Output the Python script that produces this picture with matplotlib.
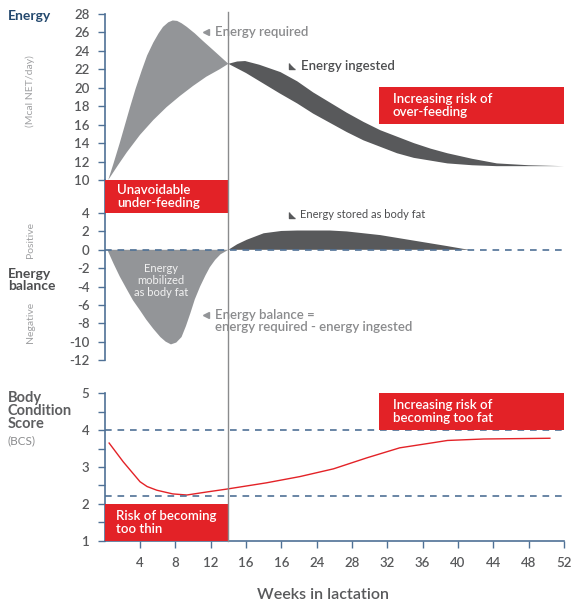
import matplotlib
matplotlib.use("Agg")
import matplotlib.pyplot as plt
import numpy as np
from matplotlib.lines import Line2D
from matplotlib.patches import Rectangle
from matplotlib.transforms import blended_transform_factory

plt.rcParams["font.family"] = ["Lato", "DejaVu Sans"]
plt.rcParams["axes.unicode_minus"] = False

# --- energy (Mcal NET/day), weeks 0-14: required (top) vs ingested (bottom)
req_early_x = [0.4, 1.0, 1.7, 2.3, 2.9, 3.5, 4.2, 4.8, 5.5, 6.1, 6.6, 7.2, 7.7, 8.2,
               8.7, 9.3, 10.2, 11.1, 12.5, 14.0]
req_early_y = [10.0, 11.8, 14.0, 16.0, 18.0, 19.9, 21.9, 23.5, 24.9, 25.9, 26.6, 27.1,
               27.3, 27.25, 27.0, 26.6, 25.9, 25.1, 23.9, 22.6]
ing_early_x = [0.4, 1.5, 2.5, 4.0, 5.5, 7.0, 8.5, 10.0, 11.5, 13.0, 14.0]
ing_early_y = [10.0, 11.6, 13.0, 14.9, 16.5, 17.9, 19.1, 20.2, 21.2, 22.0, 22.6]

# --- weeks 14-52: ingested (top) vs required (bottom)
ing_late_x = [14.0, 15.0, 15.9, 17.5, 19.9, 21.8, 23.6, 25.5, 27.4, 29.3, 31.2, 33.1,
              35.0, 36.9, 38.8, 41.6, 44.4, 48.0, 52.0]
ing_late_y = [22.6, 22.85, 22.9, 22.5, 21.7, 20.7, 19.5, 18.4, 17.3, 16.3, 15.4, 14.7,
              14.0, 13.4, 12.9, 12.3, 11.8, 11.6, 11.5]
req_late_x = [14.0, 16.0, 17.9, 19.8, 21.8, 23.6, 25.5, 27.4, 29.3, 31.2, 33.1, 35.0,
              36.9, 38.8, 41.6, 44.4, 48.0, 52.0]
req_late_y = [22.6, 21.6, 20.5, 19.4, 18.3, 17.2, 16.2, 15.2, 14.3, 13.6, 12.9, 12.4,
              12.1, 11.8, 11.6, 11.5, 11.5, 11.5]

# --- energy balance
neg_x = [0.3, 1.0, 1.7, 2.5, 3.2, 4.0, 4.7, 5.5, 6.3, 6.9, 7.5, 8.1, 8.7, 9.2, 9.7,
         10.2, 10.8, 11.4, 11.9, 12.5, 13.1, 14.0]
neg_y = [0.0, -1.5, -2.9, -4.3, -5.5, -6.6, -7.6, -8.6, -9.5, -10.0, -10.3, -10.1, -9.5,
         -8.3, -6.9, -5.4, -4.0, -2.8, -1.9, -1.1, -0.5, 0.0]
pos_x = [14.0, 15.0, 16.1, 18.0, 20.0, 21.8, 23.6, 25.5, 27.4, 29.3, 31.2, 33.1, 35.0,
         36.9, 38.8, 40.6, 41.4]
pos_y = [0.0, 0.6, 1.1, 1.8, 2.05, 2.1, 2.1, 2.1, 2.0, 1.8, 1.6, 1.3, 1.0, 0.7, 0.4, 0.1, 0.0]

# --- body condition score
bcs_x = [0.5, 2.1, 4.0, 4.8, 5.9, 7.7, 9.3, 11.5, 13.8, 18.3, 22.1, 25.9, 29.7, 33.4,
         37.2, 38.8, 42.9, 50.4]
bcs_y = [3.65, 3.14, 2.6, 2.47, 2.37, 2.27, 2.24, 2.32, 2.4, 2.57, 2.74, 2.95, 3.25,
         3.52, 3.66, 3.72, 3.76, 3.78]
bcs_fat, bcs_thin = 4.0, 2.2

week_ticks = [4, 8, 12, 16, 20, 24, 28, 32, 36, 40, 44, 48, 52]
week_tick_labels = ["4", "8", "12", "16", "16", "24", "28", "32", "36", "40", "44", "48", "52"]
transition_week = 14

LIGHT = "#939598"
DARK = "#58595b"
RED = "#e32227"
SPINE = "#4f7196"
TXT = "#58595b"

W, H = 574, 602
fig = plt.figure(figsize=(W / 100, H / 100), dpi=100)


def px_axes(x0, y0, x1, y1):
    # pixel box (left, top, right, bottom) -> axes
    return fig.add_axes([x0 / W, 1 - y1 / H, (x1 - x0) / W, (y1 - y0) / H])


ax_e = px_axes(104.7, 14, 564, 180)
ax_b = px_axes(104.7, 180, 564, 360)
ax_s = px_axes(104.7, 393.3, 564, 540.7)

for ax in (ax_e, ax_b, ax_s):
    ax.set_xlim(0, 52)
    for s in ("top", "right"):
        ax.spines[s].set_visible(False)
    ax.spines["left"].set_color(SPINE)
    ax.spines["left"].set_linewidth(1.2)
    ax.tick_params(axis="y", colors=SPINE, labelcolor=TXT, length=5, width=1,
                   labelsize=9.5, pad=6)
    for lab in ax.get_yticklabels():
        lab.set_fontweight("semibold")
    ax.patch.set_alpha(0)

# ---- energy panel
ax_e.set_ylim(10, 28)
ax_e.set_yticks(range(10, 29, 2))
ax_e.spines["bottom"].set_visible(False)
ax_e.set_xticks([])
ax_e.fill(req_early_x + ing_early_x[::-1], req_early_y + ing_early_y[::-1],
          color=LIGHT, lw=0)
ax_e.fill(ing_late_x + req_late_x[::-1], ing_late_y + req_late_y[::-1],
          color=DARK, lw=0)
ax_e.add_patch(Rectangle((31.1, 16.1), 52 - 31.1, 4.0, color=RED, lw=0, zorder=3,
                         clip_on=False))
ax_e.text(32.6, 18.1, "Increasing risk of\nover-feeding", color="white", fontsize=9.5,
          fontweight="semibold", va="center", linespacing=1.05, zorder=4)
ax_e.plot([11.5], [26.0], marker="<", color=LIGHT, ms=4, clip_on=False)
ax_e.text(12.5, 26.0, "Energy required", color="#8a8b8d", fontsize=9.5,
          fontweight="semibold", va="center")
tri = [(-1, 1), (-1, -1), (1, -1)]
ax_e.plot([21.2], [22.4], marker=tri, color=DARK, ms=4.5, clip_on=False)
ax_e.text(22.2, 22.4, "Energy ingested", color="#4d4e50", fontsize=9.5,
          fontweight="semibold", va="center")

# ---- energy balance panel
ax_b.set_ylim(-12, 7.6)
ax_b.set_yticks(range(-12, 5, 2))
ax_b.spines["bottom"].set_visible(False)
ax_b.set_xticks([])
ax_b.fill(neg_x, neg_y, color=LIGHT, lw=0)
ax_b.fill(pos_x, pos_y, color=DARK, lw=0)
ax_b.axhline(0, color=SPINE, lw=1.2, ls=(0, (4, 3.5)), zorder=3)
ax_b.add_patch(Rectangle((0, 4), transition_week, 3.6, color=RED, lw=0, zorder=3))
ax_b.text(1.4, 5.8, "Unavoidable\nunder-feeding", color="white", fontsize=9.5,
          fontweight="semibold", va="center", linespacing=1.05, zorder=4)
ax_b.text(6.4, -3.3, "Energy\nmobilized\nas body fat", color="#f2f2f2", fontsize=8,
          ha="center", va="center", linespacing=1.1)
ax_b.plot([21.2], [3.8], marker=tri, color=DARK, ms=4, clip_on=False)
ax_b.text(22.1, 3.8, "Energy stored as body fat", color="#4d4e50", fontsize=8,
          va="center")
ax_b.plot([11.5], [-7.1], marker="<", color=LIGHT, ms=4)
ax_b.text(12.5, -7.75, "Energy balance =\nenergy required - energy ingested",
          color="#8a8b8d", fontsize=9.5, fontweight="semibold", va="center",
          linespacing=1.0)

# ---- BCS panel
ax_s.set_ylim(1, 5)
ax_s.set_yticks([1, 2, 3, 4, 5])
ax_s.set_yticks(np.arange(1.5, 5, 1.0), minor=True)
ax_s.tick_params(axis="y", which="minor", colors=SPINE, length=5, width=1)
ax_s.spines["bottom"].set_color(SPINE)
ax_s.spines["bottom"].set_linewidth(1.2)
ax_s.set_xticks(week_ticks)
ax_s.set_xticklabels(week_tick_labels)
ax_s.tick_params(axis="x", colors=SPINE, labelcolor=TXT, length=5, width=1,
                 labelsize=9.5, pad=7)
for lab in ax_s.get_xticklabels():
    lab.set_fontweight("semibold")
ax_s.plot(bcs_x, bcs_y, color=RED, lw=1)
ax_s.axhline(bcs_fat, color=SPINE, lw=1.2, ls=(0, (4, 3.5)))
ax_s.axhline(bcs_thin, color=SPINE, lw=1.2, ls=(0, (4, 3.5)))
ax_s.add_patch(Rectangle((31.1, 4.0), 52 - 31.1, 1.0, color=RED, lw=0, zorder=3,
                         clip_on=False))
ax_s.text(32.6, 4.5, "Increasing risk of\nbecoming too fat", color="white", fontsize=9.5,
          fontweight="semibold", va="center", linespacing=1.05, zorder=4)
ax_s.add_patch(Rectangle((0, 1.0), transition_week, 1.0, color=RED, lw=0, zorder=3,
                         clip_on=False))
ax_s.text(1.3, 1.5, "Risk of becoming\ntoo thin", color="white", fontsize=9.5,
          fontweight="semibold", va="center", linespacing=1.05, zorder=4)
fig.text(323 / W, 1 - 595 / H, "Weeks in lactation", color=TXT, fontsize=11.5,
         fontweight="semibold", ha="center", va="center")

# vertical separator at week 14 across all panels
tr = blended_transform_factory(ax_e.transData, fig.transFigure)
fig.add_artist(Line2D([transition_week] * 2, [1 - 12 / H, 1 - 540.7 / H], transform=tr,
                      color="#8a8b8d", lw=1, zorder=5))

# left-hand labels
fig.text(8 / W, 1 - 16 / H, "Energy", color="#24496e", fontsize=10, fontweight="bold",
         va="center")
fig.text(30 / W, 1 - 91 / H, "(Mcal NET/day)", color="#a0a1a3", fontsize=7.5,
         rotation=90, ha="center", va="center")
fig.text(30 / W, 1 - 240 / H, "Positive", color="#a0a1a3", fontsize=7.5,
         rotation=90, ha="center", va="center")
fig.text(30 / W, 1 - 322 / H, "Negative", color="#a0a1a3", fontsize=7.5,
         rotation=90, ha="center", va="center")
fig.text(8 / W, 1 - 280 / H, "Energy\nbalance", color="#4d4e50", fontsize=10,
         fontweight="bold", va="center", linespacing=1.05)
fig.text(8 / W, 1 - 411 / H, "Body\nCondition\nScore", color="#5d5e60", fontsize=10.5,
         fontweight="bold", va="center", linespacing=0.95)
fig.text(8 / W, 1 - 441 / H, "(BCS)", color="#8a8b8d", fontsize=8.5, va="center")

fig.savefig("out.png", dpi=100)
